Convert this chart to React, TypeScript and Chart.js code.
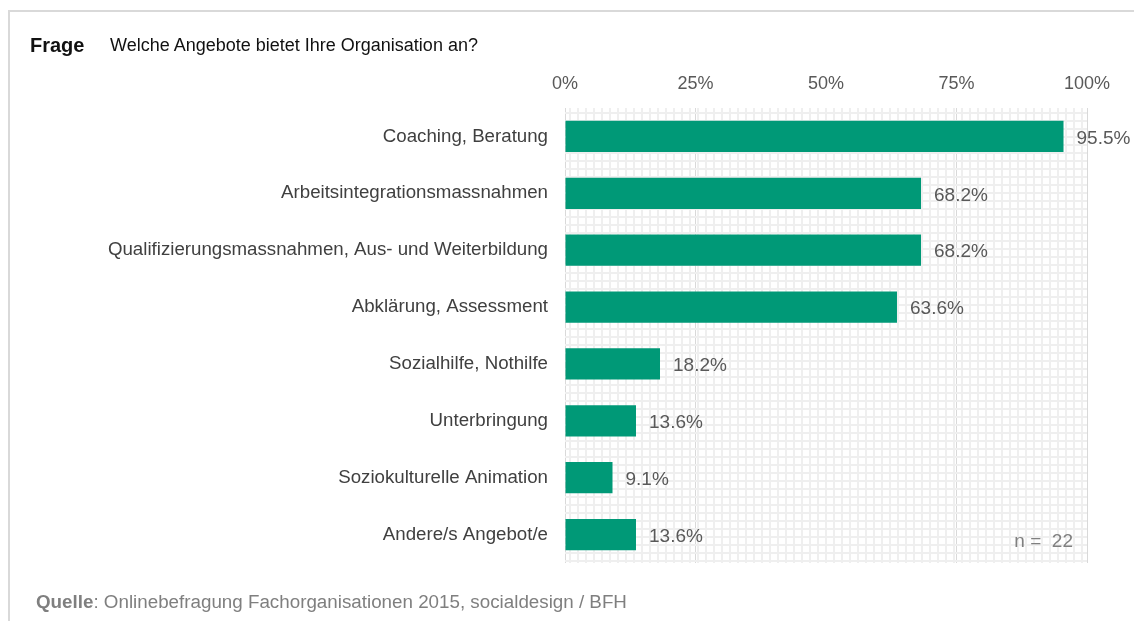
import React, { useEffect, useRef } from "react";
import { Chart, registerables } from "chart.js";

Chart.register(...registerables);

const categories = [
  "Coaching, Beratung",
  "Arbeitsintegrationsmassnahmen",
  "Qualifizierungsmassnahmen, Aus- und Weiterbildung",
  "Abklärung, Assessment",
  "Sozialhilfe, Nothilfe",
  "Unterbringung",
  "Soziokulturelle Animation",
  "Andere/s Angebot/e",
];
const values = [95.5, 68.2, 68.2, 63.6, 18.2, 13.6, 9.1, 13.6];
const xTicks = [0, 25, 50, 75, 100];
const nLabel = "n =  22";

const FONT = "'Liberation Sans', Arial, sans-serif";
const BAR = "#009977";

const patternPlugin = {
  id: "patternBg",
  beforeDatasetsDraw(chart: any) {
    const { ctx, chartArea } = chart;
    const { left, right, top, bottom } = chartArea;
    ctx.save();
    ctx.beginPath();
    ctx.rect(left, top, right - left, bottom - top);
    ctx.clip();
    ctx.strokeStyle = "#efefef";
    ctx.lineWidth = 2;
    ctx.beginPath();
    for (let x = left + 5; x < right; x += 8) {
      ctx.moveTo(x, top);
      ctx.lineTo(x, bottom);
    }
    for (let y = top + 5; y < bottom; y += 8) {
      ctx.moveTo(left, y);
      ctx.lineTo(right, y);
    }
    ctx.stroke();
    ctx.restore();
  },
};

const labelPlugin = {
  id: "valueLabels",
  afterDatasetsDraw(chart: any) {
    const { ctx, chartArea } = chart;
    const meta = chart.getDatasetMeta(0);
    ctx.save();
    ctx.font = `19px ${FONT}`;
    ctx.fillStyle = "#595959";
    ctx.textBaseline = "middle";
    ctx.textAlign = "left";
    meta.data.forEach((bar: any, i: number) => {
      ctx.fillText(values[i].toFixed(1) + "%", bar.x + 13, bar.y + 2);
    });
    ctx.fillStyle = "#808080";
    ctx.textAlign = "right";
    ctx.fillText(nLabel, chartArea.right - 14, chartArea.bottom - 21);
    ctx.restore();
  },
};

export default function App() {
  const ref = useRef<HTMLCanvasElement>(null);
  useEffect(() => {
    if (!ref.current) return;
    const chart = new Chart(ref.current, {
      type: "bar",
      data: {
        labels: categories,
        datasets: [
          {
            data: values,
            backgroundColor: BAR,
            borderWidth: 0,
            barPercentage: 0.55,
            categoryPercentage: 1,
          },
        ],
      },
      options: {
        indexAxis: "y",
        animation: false,
        responsive: true,
        maintainAspectRatio: false,
        layout: { padding: { left: 0, top: 0, right: 47, bottom: 58 } },
        plugins: {
          legend: { display: false },
          tooltip: { enabled: false },
        },
        scales: {
          x: {
            position: "top",
            min: 0,
            max: 100,
            afterBuildTicks: (s: any) => {
              s.ticks = xTicks.map((v) => ({ value: v }));
            },
            afterFit: (s: any) => {
              s.height = 96;
            },
            ticks: {
              callback: (v: any) => v + "%",
              color: "#595959",
              font: { size: 18, family: FONT },
              padding: 13,
            },
            grid: { color: "#d9d9d9", lineWidth: 1, drawTicks: false },
            border: { display: false },
          },
          y: {
            afterFit: (s: any) => {
              s.width = 555;
            },
            ticks: {
              color: "#404040",
              font: { size: 18.7, family: FONT },
              padding: 17,
            },
            grid: { display: false, drawTicks: false },
            border: { display: false },
          },
        },
      },
      plugins: [patternPlugin, labelPlugin],
    });
    return () => chart.destroy();
  }, []);

  return (
    <div
      style={{
        position: "fixed",
        left: 8,
        top: 10,
        width: 1126,
        height: 611,
        borderTop: "2px solid #d9d9d9",
        borderLeft: "2px solid #d9d9d9",
        boxSizing: "border-box",
        fontFamily: FONT,
        background: "#fff",
      }}
    >
      <div
        style={{
          position: "absolute",
          left: 0,
          top: 0,
          width: 1124,
          height: 609,
        }}
      >
        <canvas ref={ref} />
      </div>
      <div
        style={{
          position: "absolute",
          left: 20,
          top: 21,
          fontSize: 20,
          lineHeight: "24px",
          color: "#111",
          fontWeight: "bold",
          whiteSpace: "nowrap",
        }}
      >
        Frage
      </div>
      <div
        style={{
          position: "absolute",
          left: 100,
          top: 22,
          fontSize: 18,
          lineHeight: "22px",
          color: "#111",
          whiteSpace: "nowrap",
        }}
      >
        Welche Angebote bietet Ihre Organisation an?
      </div>
      <div
        style={{
          position: "absolute",
          left: 26,
          top: 579,
          fontSize: 18.8,
          lineHeight: "22px",
          color: "#7f7f7f",
          whiteSpace: "nowrap",
        }}
      >
        <span style={{ fontWeight: "bold" }}>Quelle</span>: Onlinebefragung Fachorganisationen 2015, socialdesign / BFH
      </div>
    </div>
  );
}
